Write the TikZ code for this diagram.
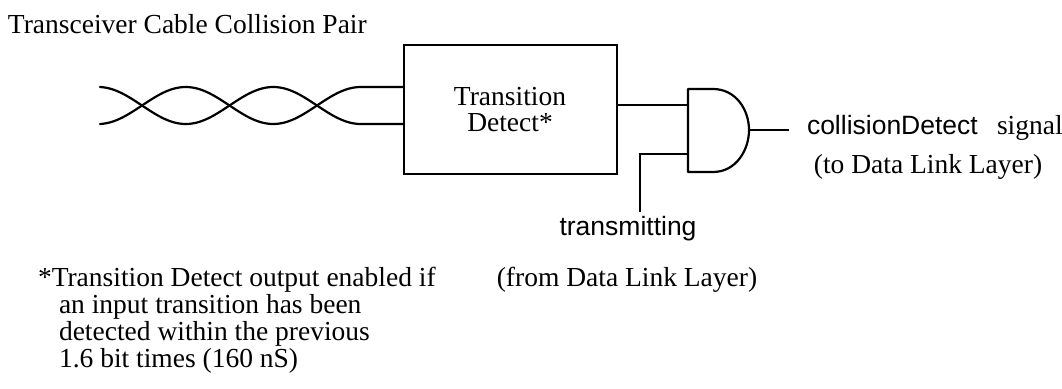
\documentclass[tikz,border=0pt]{standalone}
\usepackage{fontspec}
\setmainfont{Liberation Serif}
\newfontfamily\sansf{Liberation Sans}
\begin{document}
\begin{tikzpicture}[x=1pt,y=-1pt,line width=2pt,
  serif/.style={font=\fontsize{27.5}{28}\selectfont,inner sep=0pt},
  sanslab/.style={font=\sansf\fontsize{26.5}{27}\selectfont,inner sep=0pt},
  wire/.style={line width=2.2pt}]
\useasboundingbox (0,0) rectangle (1062,388);
% title
\node[serif,anchor=base west] (title) at (7,33) {Transceiver Cable Collision Pair};
% box
\node[draw,wire,minimum width=213pt,minimum height=129pt,inner sep=0pt,anchor=north west] (td) at (403,44) {};
\node[serif,anchor=base] (tdl1) at (510,105) {Transition};
\node[serif,anchor=base] (tdl2) at (510,131) {Detect*};
% twisted pair
\coordinate (pa) at (403,87);
\coordinate (pb) at (403,124);
\draw[wire,line cap=round] plot[domain=100:361,samples=120,smooth] (\x,{105.5-18.5*sin((\x-142)*2.05714)}) -- (pa);
\draw[wire,line cap=round] plot[domain=100:361,samples=120,smooth] (\x,{105.5+18.5*sin((\x-142)*2.05714)}) -- (pb);
% AND gate
\coordinate (g1) at (688,89);
\coordinate (g2) at (688,172);
\coordinate (gout) at (749,130);
\draw[wire,line join=round] (713,172) -- (g2) -- (g1) -- (713,89)
  .. controls (736,89) and (749,110) .. (gout)
  .. controls (749,150) and (736,172) .. (713,172);
\coordinate (in1) at (688,105);
\coordinate (in2) at (688,154);
\coordinate (tdout) at (616,105);
\draw[wire] (tdout) -- (in1);
\coordinate (tcorner) at (640,154);
\coordinate (tend) at (640,212);
\draw[wire] (in2) -- (tcorner) -- (tend);
\coordinate (oend) at (789,130);
\draw[wire] (gout) -- (oend);
% labels
\node[sanslab,anchor=base west] (cd) at (806,134) {collisionDetect};
\node[serif,anchor=base west] (sig) at (996,134) {signal};
\node[serif,anchor=base] (todl) at (928,173) {(to Data Link Layer)};
\node[sanslab,anchor=base] (tx) at (628,235) {transmitting};
\node[serif,anchor=base] (fromdl) at (627,286) {(from Data Link Layer)};
% footnote
\node[serif,anchor=base west] (f1) at (37,286) {*Transition Detect output enabled if};
\node[serif,anchor=base west] (f2) at (58,313) {an input transition has been};
\node[serif,anchor=base west] (f3) at (58,340) {detected within the previous};
\node[serif,anchor=base west] (f4) at (58,367) {1.6 bit times (160 nS)};
\end{tikzpicture}
\end{document}
